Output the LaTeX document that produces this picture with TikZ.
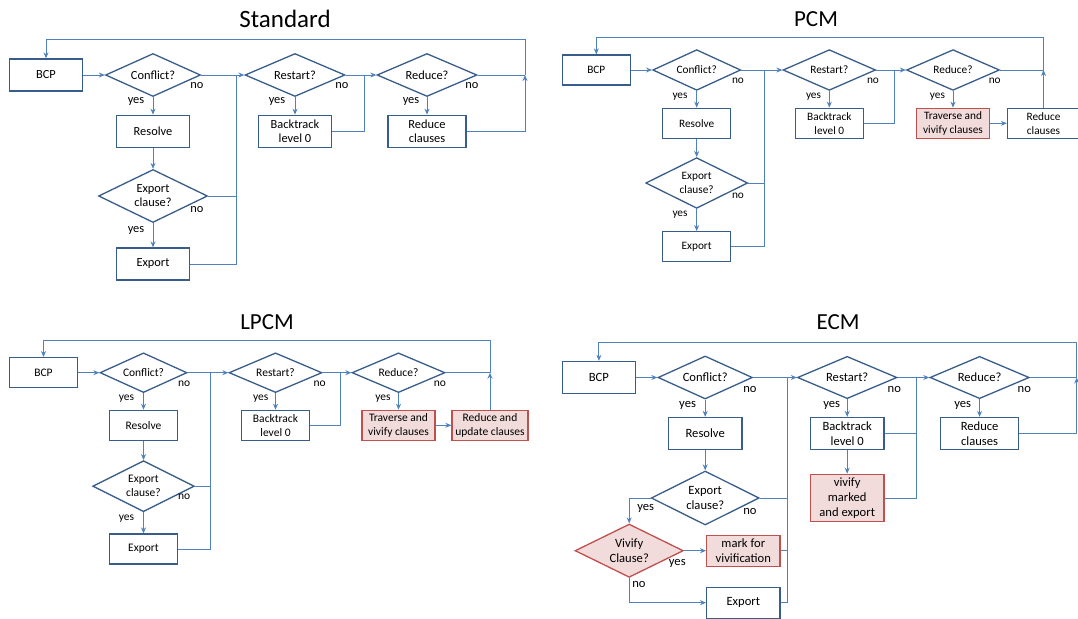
\documentclass[tikz,border=0pt]{standalone}
\usepackage{fontspec}
\setmainfont{Carlito}
\definecolor{boxblue}{RGB}{56,93,138}
\definecolor{lineblue}{RGB}{79,129,189}
\definecolor{hotred}{RGB}{192,80,77}
\definecolor{hotfill}{RGB}{242,220,219}
\usetikzlibrary{shapes.geometric,arrows.meta}

\begin{document}
\begin{tikzpicture}[x=1pt,y=-1pt,
    box/.style={draw=boxblue,line width=1.3pt,fill=white,align=center,inner sep=1pt},
    dec/.style={diamond,shape aspect=2,draw=boxblue,line width=1.3pt,fill=white,align=center,inner sep=0pt},
    hot/.style={draw=hotred,fill=hotfill},
    lbl/.style={inner sep=0pt},
    ttl/.style={inner sep=0pt,font=\fontsize{23}{27}\selectfont},
    ln/.style={draw=lineblue,line width=1pt},
    arr/.style={ln,-{Stealth[length=6pt,width=5pt]}}
    ]
    \useasboundingbox (0,0) rectangle (1078,618);

    % the Standard chart
    \begin{scope}[font=\fontsize{12.4}{14}\selectfont,
        box/.append style={minimum width=72.6pt,minimum height=32pt}]
    \node[ttl,font=\fontsize{25}{29}\selectfont] (s-title) at (285,19) {Standard};
    \node[box] (s-bcp) at (46,75) {BCP};
    \node[dec,minimum width=95pt,minimum height=43pt] (s-conf) at (153,75) {Conflict?};
    \node[box] (s-resolve) at (153,131.3) {Resolve};
    \node[dec,minimum width=109pt,minimum height=53pt] (s-expq) at (153,196) {Export\\clause?};
    \node[box] (s-export) at (153,264) {Export};
    \node[dec,minimum width=100pt,minimum height=43pt] (s-restart) at (295,75) {Restart?};
    \node[box] (s-back) at (295,131.3) {Backtrack\\level 0};
    \node[dec,minimum width=100pt,minimum height=43pt] (s-reduce) at (427,75) {Reduce?};
    \node[box,minimum width=78pt] (s-redcl) at (427,131.3) {Reduce\\clauses};
    \node[lbl] (s-no1) at (197,86) {no};
    \node[lbl] (s-no2) at (197,209.3) {no};
    \node[lbl] (s-no3) at (342,86) {no};
    \node[lbl] (s-no4) at (472,86) {no};
    \node[lbl] (s-yes1) at (136,101.7) {yes};
    \node[lbl] (s-yes2) at (136,230) {yes};
    \node[lbl] (s-yes3) at (277,101.7) {yes};
    \node[lbl] (s-yes4) at (411,101.7) {yes};
    \coordinate (s-m1) at (236,75);
    \coordinate (s-m2) at (364,75);
    \coordinate (s-loop) at (525,75);
    \coordinate (s-top) at (46,40);
    % the edges
    \draw[arr] (s-bcp) -- (s-conf);
    \draw[arr] (s-conf) -- (s-resolve);
    \draw[arr] (s-resolve) -- (s-expq);
    \draw[arr] (s-expq) -- (s-export);
    \draw[arr] (s-conf.east) -- (s-restart.west);
    \draw[ln] (s-expq.east) -| (s-m1);
    \draw[ln] (s-export.east) -| (s-m1);
    \draw[arr] (s-restart) -- (s-back);
    \draw[arr] (s-restart.east) -- (s-reduce.west);
    \draw[ln] (s-back.east) -| (s-m2);
    \draw[arr] (s-reduce) -- (s-redcl);
    \draw[ln] (s-reduce.east) -- (s-loop);
    \draw[arr] (s-redcl.east) -| (s-loop);
    \draw[arr] (s-loop) |- (s-top) -- (s-bcp);
    \end{scope}

    % the PCM chart
    \begin{scope}[font=\fontsize{11.3}{14}\selectfont,
        box/.append style={minimum width=68pt,minimum height=30pt}]
    \node[ttl] (p-title) at (816,19) {PCM};
    \node[box] (p-bcp) at (596.3,70) {BCP};
    \node[dec,minimum width=88pt,minimum height=40.7pt] (p-conf) at (696.7,70) {Conflict?};
    \node[box] (p-resolve) at (696.7,123.3) {Resolve};
    \node[dec,minimum width=102pt,minimum height=50.7pt] (p-expq) at (696.7,183) {Export\\clause?};
    \node[box] (p-export) at (696.7,246.7) {Export};
    \node[dec,minimum width=92.6pt,minimum height=40.7pt] (p-restart) at (829.3,70) {Restart?};
    \node[box] (p-back) at (829.3,123.3) {Backtrack\\level 0};
    \node[dec,minimum width=93pt,minimum height=40.7pt] (p-reduce) at (953,70) {Reduce?};
    \node[box,hot,minimum width=72.7pt] (p-trav) at (953,123.3) {Traverse and\\vivify clauses};
    \node[box,minimum width=72pt] (p-redcl) at (1043.5,123.3) {Reduce\\clauses};
    \node[lbl] (p-no1) at (738,80.7) {no};
    \node[lbl] (p-no2) at (738,195.7) {no};
    \node[lbl] (p-no3) at (873,80.7) {no};
    \node[lbl] (p-no4) at (994.7,80.7) {no};
    \node[lbl] (p-yes1) at (680,96.7) {yes};
    \node[lbl] (p-yes2) at (680,215) {yes};
    \node[lbl] (p-yes3) at (813.5,96.7) {yes};
    \node[lbl] (p-yes4) at (937.4,96.7) {yes};
    \coordinate (p-m1) at (764,70);
    \coordinate (p-m2) at (894.5,70);
    \coordinate (p-loop) at (1043.5,70);
    \coordinate (p-top) at (596.3,37.3);
    % the edges
    \draw[arr] (p-bcp) -- (p-conf);
    \draw[arr] (p-conf) -- (p-resolve);
    \draw[arr] (p-resolve) -- (p-expq);
    \draw[arr] (p-expq) -- (p-export);
    \draw[arr] (p-conf.east) -- (p-restart.west);
    \draw[ln] (p-expq.east) -| (p-m1);
    \draw[ln] (p-export.east) -| (p-m1);
    \draw[arr] (p-restart) -- (p-back);
    \draw[arr] (p-restart.east) -- (p-reduce.west);
    \draw[ln] (p-back.east) -| (p-m2);
    \draw[arr] (p-reduce) -- (p-trav);
    \draw[arr] (p-trav) -- (p-redcl);
    \draw[ln] (p-reduce.east) -- (p-loop);
    \draw[arr] (p-redcl) -- (p-loop);
    \draw[arr] (p-loop) |- (p-top) -- (p-bcp);
    \end{scope}

    % the LPCM chart
    \begin{scope}[font=\fontsize{11.5}{14}\selectfont,
        box/.append style={minimum width=68pt,minimum height=30pt}]
    \node[ttl] (l-title) at (267,322) {LPCM};
    \node[box] (l-bcp) at (43.5,372.7) {BCP};
    \node[dec,minimum width=87pt,minimum height=39.7pt] (l-conf) at (143.5,372.7) {Conflict?};
    \node[box] (l-resolve) at (143.5,425.3) {Resolve};
    \node[dec,minimum width=101.5pt,minimum height=51pt] (l-expq) at (143.5,486.2) {Export\\clause?};
    \node[box] (l-export) at (143.5,549) {Export};
    \node[dec,minimum width=93pt,minimum height=39.7pt] (l-restart) at (275.5,372.7) {Restart?};
    \node[box] (l-back) at (275.5,425.3) {Backtrack\\level 0};
    \node[dec,minimum width=93pt,minimum height=39.7pt] (l-reduce) at (398.5,372.7) {Reduce?};
    \node[box,hot,minimum width=73pt] (l-trav) at (398.5,425.3) {Traverse and\\vivify clauses};
    \node[box,hot,minimum width=76pt] (l-redup) at (490,425.3) {Reduce and\\update clauses};
    \node[lbl] (l-no1) at (184.2,383.3) {no};
    \node[lbl] (l-no2) at (184.2,496.7) {no};
    \node[lbl] (l-no3) at (319.6,383.3) {no};
    \node[lbl] (l-no4) at (440,383.3) {no};
    \node[lbl] (l-yes1) at (126.4,399) {yes};
    \node[lbl] (l-yes2) at (126.4,518.3) {yes};
    \node[lbl] (l-yes3) at (260.7,399) {yes};
    \node[lbl] (l-yes4) at (383,399) {yes};
    \coordinate (l-m1) at (210.7,372.7);
    \coordinate (l-m2) at (340.2,372.7);
    \coordinate (l-loop) at (490,372.7);
    \coordinate (l-top) at (43.5,340);
    % the edges
    \draw[arr] (l-bcp) -- (l-conf);
    \draw[arr] (l-conf) -- (l-resolve);
    \draw[arr] (l-resolve) -- (l-expq);
    \draw[arr] (l-expq) -- (l-export);
    \draw[arr] (l-conf.east) -- (l-restart.west);
    \draw[ln] (l-expq.east) -| (l-m1);
    \draw[ln] (l-export.east) -| (l-m1);
    \draw[arr] (l-restart) -- (l-back);
    \draw[arr] (l-restart.east) -- (l-reduce.west);
    \draw[ln] (l-back.east) -| (l-m2);
    \draw[arr] (l-reduce) -- (l-trav);
    \draw[arr] (l-trav) -- (l-redup);
    \draw[ln] (l-reduce.east) -- (l-loop);
    \draw[arr] (l-redup) -- (l-loop);
    \draw[arr] (l-loop) |- (l-top) -- (l-bcp);
    \end{scope}

    % the ECM chart
    \begin{scope}[font=\fontsize{12.6}{15}\selectfont,
        box/.append style={minimum width=73.3pt,minimum height=32pt}]
    \node[ttl] (e-title) at (838,322) {ECM};
    \node[box] (e-bcp) at (598.9,377.5) {BCP};
    \node[dec,minimum width=94.4pt,minimum height=43pt] (e-conf) at (705.2,377.5) {Conflict?};
    \node[box] (e-resolve) at (705.2,433.5) {Resolve};
    \node[dec,minimum width=108pt,minimum height=54pt] (e-expq) at (705.2,498) {Export\\clause?};
    \node[dec,hot,minimum width=108.3pt,minimum height=53.3pt] (e-vivq) at (629.2,550.7) {Vivify\\Clause?};
    \node[box,hot,minimum height=31pt] (e-mark) at (743.3,550.7) {mark for\\vivification};
    \node[box,minimum height=31pt] (e-export) at (743.3,602.7) {Export};
    \node[dec,minimum width=99.5pt,minimum height=42.3pt] (e-restart) at (847.2,377.5) {Restart?};
    \node[box] (e-back) at (847.2,433.5) {Backtrack\\level 0};
    \node[box,hot,minimum height=47.4pt] (e-vivm) at (847.2,498) {vivify\\marked\\and export};
    \node[dec,minimum width=99.3pt,minimum height=42.3pt] (e-reduce) at (979.6,377.5) {Reduce?};
    \node[box,minimum width=77.6pt] (e-redcl) at (979.6,433.5) {Reduce\\clauses};
    \node[lbl] (e-no1) at (750,389.3) {no};
    \node[lbl] (e-no2) at (750,511.7) {no};
    \node[lbl] (e-no3) at (639,584) {no};
    \node[lbl] (e-no4) at (894.3,389.3) {no};
    \node[lbl] (e-no5) at (1024.3,389.3) {no};
    \node[lbl] (e-yes1) at (687.6,405) {yes};
    \node[lbl] (e-yes2) at (645.7,508.3) {yes};
    \node[lbl] (e-yes3) at (677.3,563.3) {yes};
    \node[lbl] (e-yes4) at (831.7,405) {yes};
    \node[lbl] (e-yes5) at (962.7,405) {yes};
    \coordinate (e-m1) at (787.8,377.5);
    \coordinate (e-m2) at (916.7,377.5);
    \coordinate (e-loop) at (1076.7,377.5);
    \coordinate (e-top) at (598.9,342.7);
    % the edges
    \draw[arr] (e-bcp) -- (e-conf);
    \draw[arr] (e-conf) -- (e-resolve);
    \draw[arr] (e-resolve) -- (e-expq);
    \draw[arr] (e-expq.west) -| (e-vivq.north);
    \draw[arr] (e-vivq) -- (e-mark);
    \draw[arr] (e-vivq.south) |- (e-export.west);
    \draw[arr] (e-conf.east) -- (e-restart.west);
    \draw[ln] (e-expq.east) -| (e-m1);
    \draw[ln] (e-mark.east) -| (e-m1);
    \draw[ln] (e-export.east) -| (e-m1);
    \draw[arr] (e-restart) -- (e-back);
    \draw[arr] (e-back) -- (e-vivm);
    \draw[arr] (e-restart.east) -- (e-reduce.west);
    \draw[ln] (e-back.east) -| (e-m2);
    \draw[ln] (e-vivm.east) -| (e-m2);
    \draw[arr] (e-reduce) -- (e-redcl);
    \draw[ln] (e-reduce.east) -- (e-loop);
    \draw[arr] (e-redcl.east) -| (e-loop);
    \draw[arr] (e-loop) |- (e-top) -- (e-bcp);
    \end{scope}
\end{tikzpicture}
\end{document}
